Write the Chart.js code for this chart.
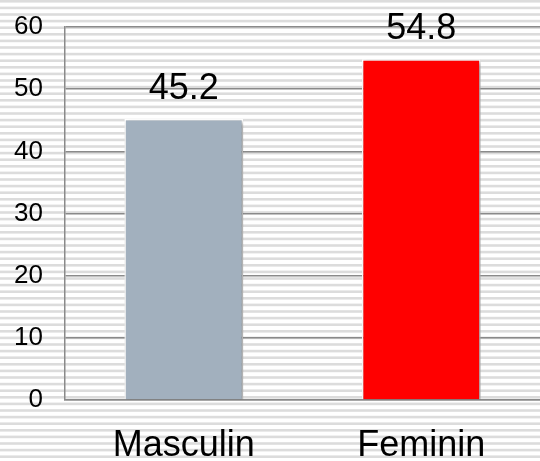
<!DOCTYPE html>
<html>
<head>
<meta charset="utf-8">
<script src="https://cdn.jsdelivr.net/npm/chart.js@4/dist/chart.umd.min.js"></script>
<style>
html,body{margin:0;padding:0;background:#fff;overflow:hidden;}
#wrap{width:540px;height:461px;position:relative;}
</style>
</head>
<body>
<div id="wrap"><canvas id="c" width="540" height="461"></canvas></div>
<script>
const categories = ["Masculin", "Feminin"];
const values = [45.2, 54.8];
const valueLabels = ["45.2", "54.8"];
const barColors = ["#A2B0BE", "#FF0000"];
const yTicks = [0, 10, 20, 30, 40, 50, 60];

const stripes = {
  id: 'stripes',
  beforeDraw(chart) {
    const ctx = chart.ctx;
    ctx.save();
    ctx.fillStyle = '#ffffff';
    ctx.fillRect(0, 0, chart.width, chart.height);
    ctx.fillStyle = '#dcdcdc';
    const period = 6.6, h = 2.6;
    for (let y = 0; y < chart.height; y += period) {
      ctx.fillRect(0, y, chart.width, h);
    }
    ctx.restore();
  }
};

const shadow = {
  id: 'shadow',
  beforeDatasetsDraw(chart) {
    const ctx = chart.ctx;
    ctx.save();
    ctx.shadowColor = 'rgba(0,0,0,0.4)';
    ctx.shadowBlur = 4;
    ctx.shadowOffsetX = 2;
    ctx.shadowOffsetY = 2;
  },
  afterDatasetsDraw(chart) {
    chart.ctx.restore();
  }
};

const valueText = {
  id: 'valueText',
  afterDatasetsDraw(chart) {
    const ctx = chart.ctx;
    const meta = chart.getDatasetMeta(0);
    ctx.save();
    ctx.shadowColor = 'transparent';
    ctx.fillStyle = '#000';
    ctx.font = '36px "Liberation Sans", Arial, sans-serif';
    ctx.textAlign = 'center';
    ctx.textBaseline = 'alphabetic';
    meta.data.forEach((bar, i) => {
      ctx.fillText(valueLabels[i], bar.x, bar.y - 20);
    });
    ctx.restore();
  }
};

new Chart(document.getElementById('c'), {
  type: 'bar',
  data: {
    labels: categories,
    datasets: [{
      data: values,
      backgroundColor: barColors,
      borderColor: '#ffffff',
      borderWidth: 1.5,
      barPercentage: 0.5,
      categoryPercentage: 1.0
    }]
  },
  options: {
    responsive: false,
    animation: false,
    events: [],
    layout: { padding: { top: 27, right: 0, left: 0, bottom: 0 } },
    plugins: { legend: { display: false }, tooltip: { enabled: false } },
    scales: {
      x: {
        grid: { display: false, drawTicks: false },
        border: { display: true, color: '#8a8a8a', width: 1.5 },
        ticks: {
          color: '#000',
          font: { family: '"Liberation Sans", Arial, sans-serif', size: 36 },
          padding: 24,
          maxRotation: 0
        },
        afterFit(scale) { scale.height = 61; scale.paddingLeft = 0; scale.paddingRight = 0; }
      },
      y: {
        min: 0,
        max: 60,
        afterBuildTicks(scale) { scale.ticks = yTicks.map(v => ({ value: v })); },
        grid: { color: '#8a8a8a', lineWidth: 1.5, drawTicks: false },
        border: { display: true, color: '#8a8a8a', width: 1.5 },
        ticks: {
          color: '#000',
          font: { family: '"Liberation Sans", Arial, sans-serif', size: 26 },
          padding: 22
        },
        afterFit(scale) { scale.width = 65; scale.paddingTop = 0; scale.paddingBottom = 0; }
      }
    }
  },
  plugins: [stripes, shadow, valueText]
});
</script>
</body>
</html>
